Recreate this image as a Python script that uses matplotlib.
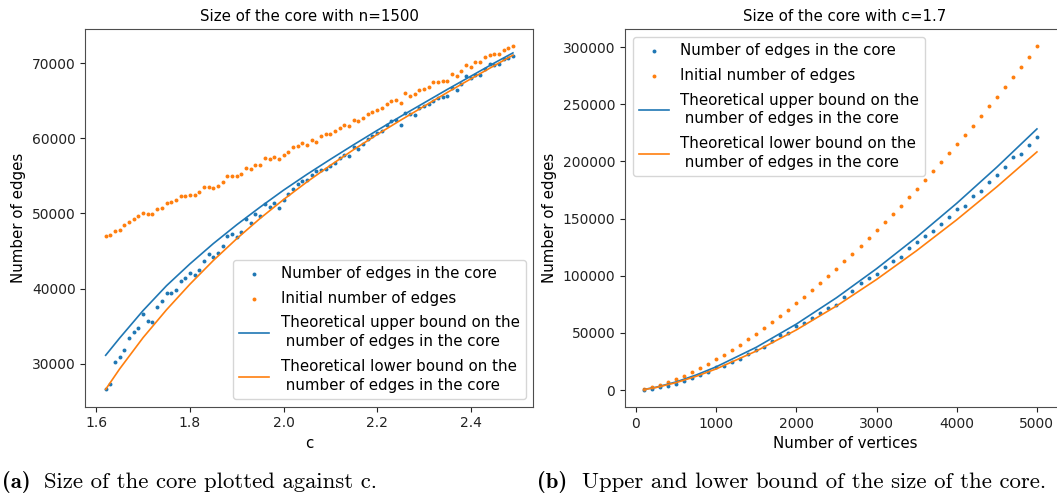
import numpy as np
import matplotlib
matplotlib.use("Agg")
import matplotlib.pyplot as plt

# left panel: n = 1500, c varies
c_vals = np.round(np.arange(1.62, 2.495, 0.01), 2)
core_left = [26710, 27330, 30310, 30930, 31870, 33470, 34180, 34800, 36580, 35730, 35600,
             37600, 38310, 39470, 39470, 39780, 41070, 41470, 42090, 41780, 42440, 43730,
             44620, 44270, 44760, 45640, 47020, 47290, 46930, 47600, 49330, 48710, 49960,
             49600, 51200, 50890, 51380, 50760, 51730, 52620, 53240, 53870, 54310, 54400,
             55160, 55600, 55730, 55960, 56310, 56760, 57330, 57730, 57640, 58840, 58530,
             59290, 59960, 60310, 60760, 60930, 61820, 62270, 62490, 61730, 63420, 63200,
             63070, 63960, 64300, 64530, 65000, 65380, 65510, 65640, 66710, 66360, 67160,
             68220, 67960, 68400, 68360, 69200, 69820, 69800, 69820, 70530, 70710, 70980]
init_left = [47070, 47200, 47730, 47870, 48440, 48890, 49290, 49600, 50090, 49870, 49870,
             50580, 50710, 51330, 51470, 51730, 52270, 52270, 52490, 52400, 52800, 53470,
             53510, 53330, 53690, 54180, 54980, 54980, 54980, 55290, 56090, 55910, 56490,
             56490, 57380, 57200, 57560, 57200, 57820, 58180, 58840, 58980, 59380, 59160,
             59820, 59510, 60270, 60530, 60620, 60930, 61420, 61820, 61600, 62400, 62270,
             62760, 63200, 63510, 63780, 64090, 64490, 64980, 65070, 64710, 65960, 65640,
             65820, 66400, 66530, 66800, 67510, 67510, 67640, 67640, 68490, 68310, 68980,
             69730, 69510, 70090, 70090, 70760, 71070, 71200, 71200, 71780, 71960, 72220]
c_line = [1.62, 1.65, 1.70, 1.75, 1.80, 1.85, 1.90, 1.95, 2.00, 2.05, 2.10, 2.15, 2.20,
          2.25, 2.30, 2.35, 2.40, 2.45, 2.49]
upper_left = [31150, 33450, 37100, 40400, 43300, 46000, 48500, 50850, 53100, 55200, 57200,
              59150, 61050, 62900, 64700, 66500, 68250, 70000, 71350]
lower_left = [26620, 29350, 33500, 37200, 40600, 43750, 46650, 49350, 51850, 54200, 56400,
              58500, 60500, 62400, 64250, 66100, 67900, 69650, 71050]

# right panel: c = 1.7, n varies
n_vals = np.arange(100, 5001, 100)
core_right = [300, 600, 2900, 3800, 5300, 8200, 10800, 13100, 15800, 19900,
              21000, 24200, 27200, 31300, 35100, 38000, 42900, 48200, 50200, 56400,
              58400, 63000, 67200, 71600, 74500, 81200, 86800, 93500, 98500, 101400,
              107500, 112500, 116600, 124200, 129400, 134400, 139400, 145200, 151000, 158400,
              161300, 169500, 174400, 182000, 188400, 194900, 203600, 206600, 214700, 221500]
init_right = [850, 2400, 4400, 6800, 9500, 12500, 15700, 19200, 23000, 26900,
              31000, 35300, 39800, 44500, 49400, 54400, 59600, 64900, 70400, 76000,
              81800, 87700, 93800, 99900, 106300, 112700, 119300, 125900, 132700, 139700,
              146700, 153900, 161100, 168500, 176000, 183600, 191300, 199100, 207000, 215000,
              223100, 231400, 239700, 248100, 256600, 265200, 273900, 282700, 291600, 300500]
n_line = [100, 250, 500, 750, 1000, 1500, 2000, 2500, 3000, 3500, 4000, 4500, 5000]
upper_right = [650, 2550, 7200, 13270, 20400, 37500, 57800, 80800, 106200, 133800,
               163400, 195000, 228400]
lower_right = [590, 2330, 6600, 12100, 18600, 34200, 52700, 73600, 96800, 122000,
               149000, 177800, 208300]

labels = ['Number of edges in the core', 'Initial number of edges',
          'Theoretical upper bound on the\n number of edges in the core',
          'Theoretical lower bound on the\n number of edges in the core']
blue, orange = '#1f77b4', '#ff7f0e'
fs = 10.8

W, H = 1057, 497
fig = plt.figure(figsize=(W / 100, H / 100), dpi=100)
ax1 = fig.add_axes([85.3 / W, 90.5 / H, 448 / W, 377.3 / H])
# right panel runs past the edge of the picture (cropped in the original)
ax2 = fig.add_axes([625 / W, 90 / H, 440 / W, 377.7 / H])


def draw(ax, x, core, init, xl, up, low, title, xlabel, loc):
    ax.scatter(x, core, s=8, color=blue, label=labels[0], linewidths=0)
    ax.scatter(x, init, s=8, color=orange, label=labels[1], linewidths=0)
    ax.plot(xl, up, color=blue, lw=1.2, label=labels[2])
    ax.plot(xl, low, color=orange, lw=1.2, label=labels[3])
    ax.set_title(title, fontsize=fs)
    ax.set_xlabel(xlabel, fontsize=fs)
    ax.set_ylabel('Number of edges', fontsize=fs)
    ax.tick_params(labelsize=10, colors='#222222')
    for s in ax.spines.values():
        s.set_color('0.3')
    leg = ax.legend(loc=loc, fontsize=fs, labelspacing=0.66)
    for t in leg.get_texts():
        t.set_linespacing(1.32)


draw(ax1, c_vals, core_left, init_left, c_line, upper_left, lower_left,
     'Size of the core with n=1500', 'c', 'lower right')
draw(ax2, n_vals, core_right, init_right, n_line, upper_right, lower_right,
     'Size of the core with c=1.7', 'Number of vertices', 'upper left')
ax1.set_yticks([30000, 40000, 50000, 60000, 70000])
ax2.set_xticks([0, 1000, 2000, 3000, 4000, 5000])
ax2.set_xlim(-137, 5350)

# captions under the panels
yb = (H - 488) / H
cfs = 16.4
fig.text(2 / W, yb, '(a)', family='cmb10', fontsize=cfs, va='baseline')
fig.text(44 / W, yb, 'Size of the core plotted against c.', family='cmr10', fontsize=cfs, va='baseline')
fig.text(537 / W, yb, '(b)', family='cmb10', fontsize=cfs, va='baseline')
fig.text(582 / W, yb, 'Upper and lower bound of the size of the core.', family='cmr10', fontsize=cfs, va='baseline')

fig.savefig('out.png', dpi=100)
